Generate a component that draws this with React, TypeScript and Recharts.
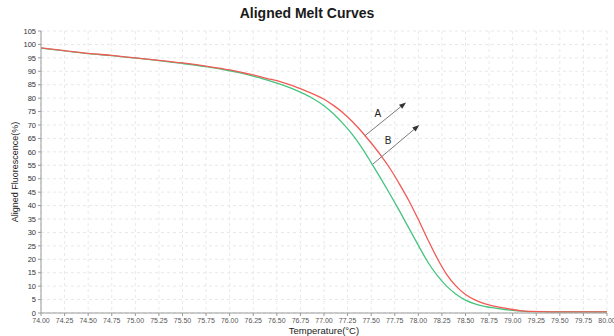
import React from 'react';
import { LineChart, Line, XAxis, YAxis, CartesianGrid, ReferenceLine, ReferenceDot } from 'recharts';

const temps = [74.0, 74.25, 74.5, 74.75, 75.0, 75.25, 75.5, 75.75, 76.0, 76.1, 76.2, 76.3, 76.4, 76.5, 76.6, 76.7, 76.8, 76.9, 77.0, 77.1, 77.2, 77.3, 77.4, 77.5, 77.6, 77.7, 77.8, 77.9, 78.0, 78.1, 78.2, 78.3, 78.4, 78.5, 78.6, 78.7, 78.8, 78.9, 79.0, 79.1, 79.2, 79.3, 79.5, 79.75, 80.0];
const curveA = [98.7, 97.7, 96.7, 95.9, 95.0, 94.1, 93.1, 91.9, 90.5, 89.8, 89.0, 88.2, 87.3, 86.5, 85.4, 84.2, 82.8, 81.3, 79.6, 77.3, 74.6, 71.3, 67.5, 63.3, 58.8, 53.8, 48.0, 41.8, 34.8, 27.4, 20.4, 14.4, 10.0, 6.9, 4.9, 3.5, 2.6, 1.9, 1.3, 0.8, 0.6, 0.5, 0.4, 0.4, 0.4];
const curveB = [98.6, 97.6, 96.6, 95.8, 94.9, 94.0, 92.9, 91.7, 90.2, 89.5, 88.7, 87.7, 86.7, 85.6, 84.4, 83.0, 81.4, 79.5, 77.2, 74.2, 70.6, 66.5, 61.6, 56.0, 50.2, 44.2, 38.0, 31.6, 25.2, 19.0, 14.0, 10.0, 7.0, 4.8, 3.4, 2.5, 1.9, 1.4, 1.0, 0.7, 0.5, 0.5, 0.4, 0.4, 0.4];

const xTicks = [74.0, 74.25, 74.5, 74.75, 75.0, 75.25, 75.5, 75.75, 76.0, 76.25, 76.5, 76.75, 77.0, 77.25, 77.5, 77.75, 78.0, 78.25, 78.5, 78.75, 79.0, 79.25, 79.5, 79.75, 80.0];
const yTicks = [0, 5, 10, 15, 20, 25, 30, 35, 40, 45, 50, 55, 60, 65, 70, 75, 80, 85, 90, 95, 100, 105];

const arrowA = [{ x: 77.43, y: 65.9 }, { x: 77.87, y: 78.4 }];
const arrowB = [{ x: 77.52, y: 55.5 }, { x: 78.01, y: 70.0 }];
const labelA = { x: 77.57, y: 74.3, text: 'A' };
const labelB = { x: 77.68, y: 64.4, text: 'B' };

const data = temps.map((t, i) => ({ t, a: curveA[i], b: curveB[i] }));

const Arrow = (props: any) => {
  const { x1, y1, x2, y2 } = props;
  if ([x1, y1, x2, y2].some((v) => typeof v !== 'number' || isNaN(v))) return null;
  const ang = Math.atan2(y2 - y1, x2 - x1);
  const len = 7;
  const w = 2.6;
  const bx = x2 - len * Math.cos(ang);
  const by = y2 - len * Math.sin(ang);
  const px = -Math.sin(ang) * w;
  const py = Math.cos(ang) * w;
  return (
    <g>
      <line x1={x1} y1={y1} x2={bx} y2={by} stroke="#7a7a7a" strokeWidth={1} />
      <polygon points={`${x2},${y2} ${bx + px},${by + py} ${bx - px},${by - py}`} fill="#333" />
    </g>
  );
};

export default function App() {
  return (
    <div style={{ position: 'fixed', left: 0, top: 0, width: 614, height: 336, background: '#fff' }}>
      <div
        style={{
          position: 'absolute',
          left: 0,
          top: 5,
          width: 614,
          textAlign: 'center',
          fontFamily: '"Liberation Sans", Arial, sans-serif',
          fontWeight: 'bold',
          fontSize: 14,
          color: '#1a1a1a',
          lineHeight: '16px',
        }}
      >
        Aligned Melt Curves
      </div>
      <LineChart width={614} height={336} data={data} margin={{ top: 31, right: 7, left: 0, bottom: 0 }}>
        <CartesianGrid stroke="#e6e9eb" strokeDasharray="3 3" />
        <XAxis
          dataKey="t"
          type="number"
          domain={[74, 80]}
          ticks={xTicks}
          tickFormatter={(v: number) => v.toFixed(2)}
          interval={0}
          height={23}
          tickSize={3}
          stroke="#9a9a9a"
          tick={{ fontSize: 7, fill: '#555', fontFamily: '"Liberation Sans Narrow", "Liberation Sans", Arial, sans-serif' }}
          label={{
            value: 'Temperature(°C)',
            position: 'insideBottom',
            offset: 2,
            fontSize: 9.5,
            fill: '#222',
            fontFamily: '"Liberation Sans", Arial, sans-serif',
          }}
        />
        <YAxis
          type="number"
          domain={[0, 105]}
          ticks={yTicks}
          interval={0}
          width={41}
          tickSize={3}
          stroke="#9a9a9a"
          tick={{ fontSize: 7.5, fill: '#333', fontFamily: '"Liberation Sans", Arial, sans-serif' }}
          label={{
            value: 'Aligned Fluorescence(%)',
            angle: -90,
            position: 'center',
            dx: -6,
            fontSize: 9,
            fill: '#222',
            fontFamily: '"Liberation Sans", Arial, sans-serif',
          }}
        />
        <Line type="monotone" dataKey="b" stroke="#45c47f" strokeWidth={1.3} dot={false} isAnimationActive={false} />
        <Line type="monotone" dataKey="a" stroke="#f25a55" strokeWidth={1.3} dot={false} isAnimationActive={false} />
        <ReferenceLine segment={arrowA} shape={Arrow} />
        <ReferenceLine segment={arrowB} shape={Arrow} />
        <ReferenceDot
          x={labelA.x}
          y={labelA.y}
          r={0}
          fill="none"
          stroke="none"
          label={{ value: labelA.text, position: 'center', fontSize: 10, fill: '#222', fontFamily: '"Liberation Sans", Arial, sans-serif' }}
        />
        <ReferenceDot
          x={labelB.x}
          y={labelB.y}
          r={0}
          fill="none"
          stroke="none"
          label={{ value: labelB.text, position: 'center', fontSize: 10, fill: '#222', fontFamily: '"Liberation Sans", Arial, sans-serif' }}
        />
      </LineChart>
    </div>
  );
}
